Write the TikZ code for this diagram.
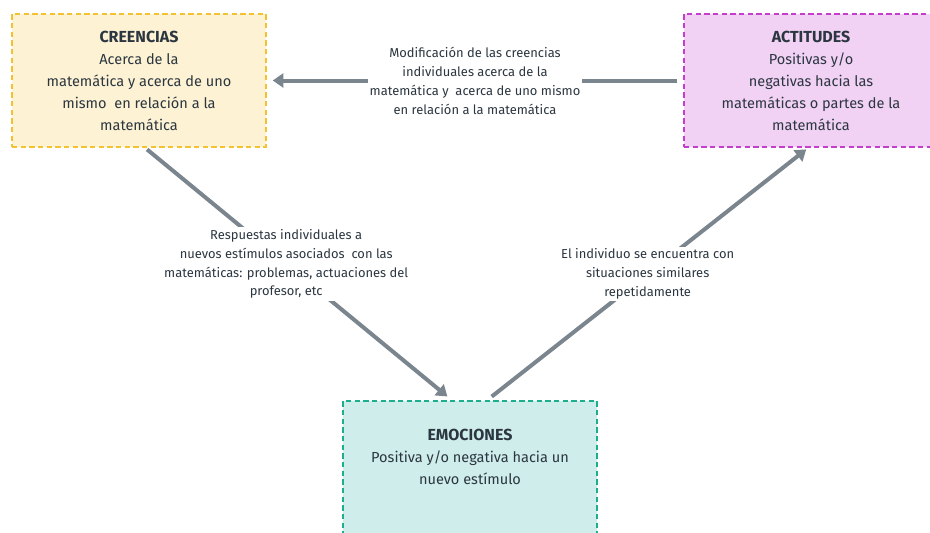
\documentclass[tikz,border=0pt]{standalone}
\usepackage{fontspec}
\setmainfont{Fira Sans}
\usepackage{tikz}
\usetikzlibrary{arrows.meta}
\usepackage{xcolor}

\definecolor{txtdark}{HTML}{2B3640}
\definecolor{arrgray}{HTML}{7B858E}
\definecolor{creefill}{HTML}{FDF2D3}
\definecolor{creeline}{HTML}{F2C230}
\definecolor{actifill}{HTML}{F2D2F4}
\definecolor{actiline}{HTML}{C53DCB}
\definecolor{emofill}{HTML}{CFEDEA}
\definecolor{emoline}{HTML}{1BAE8F}
\newcommand{\boxtitle}[1]{{\fontsize{12pt}{16.5pt}\selectfont\bfseries #1}}

\begin{document}
\begin{tikzpicture}[x=0.75pt, y=-0.75pt,
  concept/.style={draw=#1line, fill=#1fill, line width=1.1pt,
    dash pattern=on 4pt off 2.5pt, minimum width=190.5pt, minimum height=99.75pt,
    align=center, text=txtdark, font=\fontsize{10.9pt}{16.5pt}\selectfont, inner sep=0pt},
  arr/.style={draw=arrgray, line width=3pt, -{Triangle[length=8pt, width=10.5pt]},
    shorten >=4.5pt, shorten <=4.5pt},
  lbl/.style={fill=white, align=center, text=txtdark, inner sep=1.5pt,
    font=\fontsize{9.7pt}{14.2pt}\selectfont}]
 \useasboundingbox (0, 0) rectangle (930, 532);
 \clip (0, 0) rectangle (930, 532);
  % the three boxes
  \node[concept=cree] (creencias) at (139, 80.5)
    {\boxtitle{CREENCIAS}\\Acerca de la\\matemática y acerca de uno\\mismo\ \ en relación a la\\matemática};
  \node[concept=acti] (actitudes) at (811, 80.5)
    {\boxtitle{ACTITUDES}\\Positivas y/o\\negativas hacia las\\matemáticas o partes de la\\matemática};
  \node[concept=emo] (emociones) at (470, 467.5)
    {\boxtitle{EMOCIONES}\\Positiva y/o negativa hacia un\\nuevo estímulo\\\mbox{}};
  % connectors
  \draw[arr] (actitudes.west) -- node[lbl] {Modificación de las creencias\\individuales acerca de la\\matemática y\ \ acerca de uno mismo\\en relación a la matemática} (creencias.east);
  \draw[arr, shorten <=2pt] ([xshift=4.5pt]creencias.south) -- node[lbl, pos=0.46] {Respuestas individuales a\\nuevos estímulos asociados\ \ con las\\matemáticas: problemas, actuaciones del\\profesor, etc} ([xshift=-13.5pt]emociones.north);
  \draw[arr, shorten >=2pt] ([xshift=12.75pt]emociones.north) -- node[lbl] {El individuo se encuentra con\\situaciones similares\\repetidamente} ([xshift=-2pt]actitudes.south);
 \end{tikzpicture}
\end{document}
